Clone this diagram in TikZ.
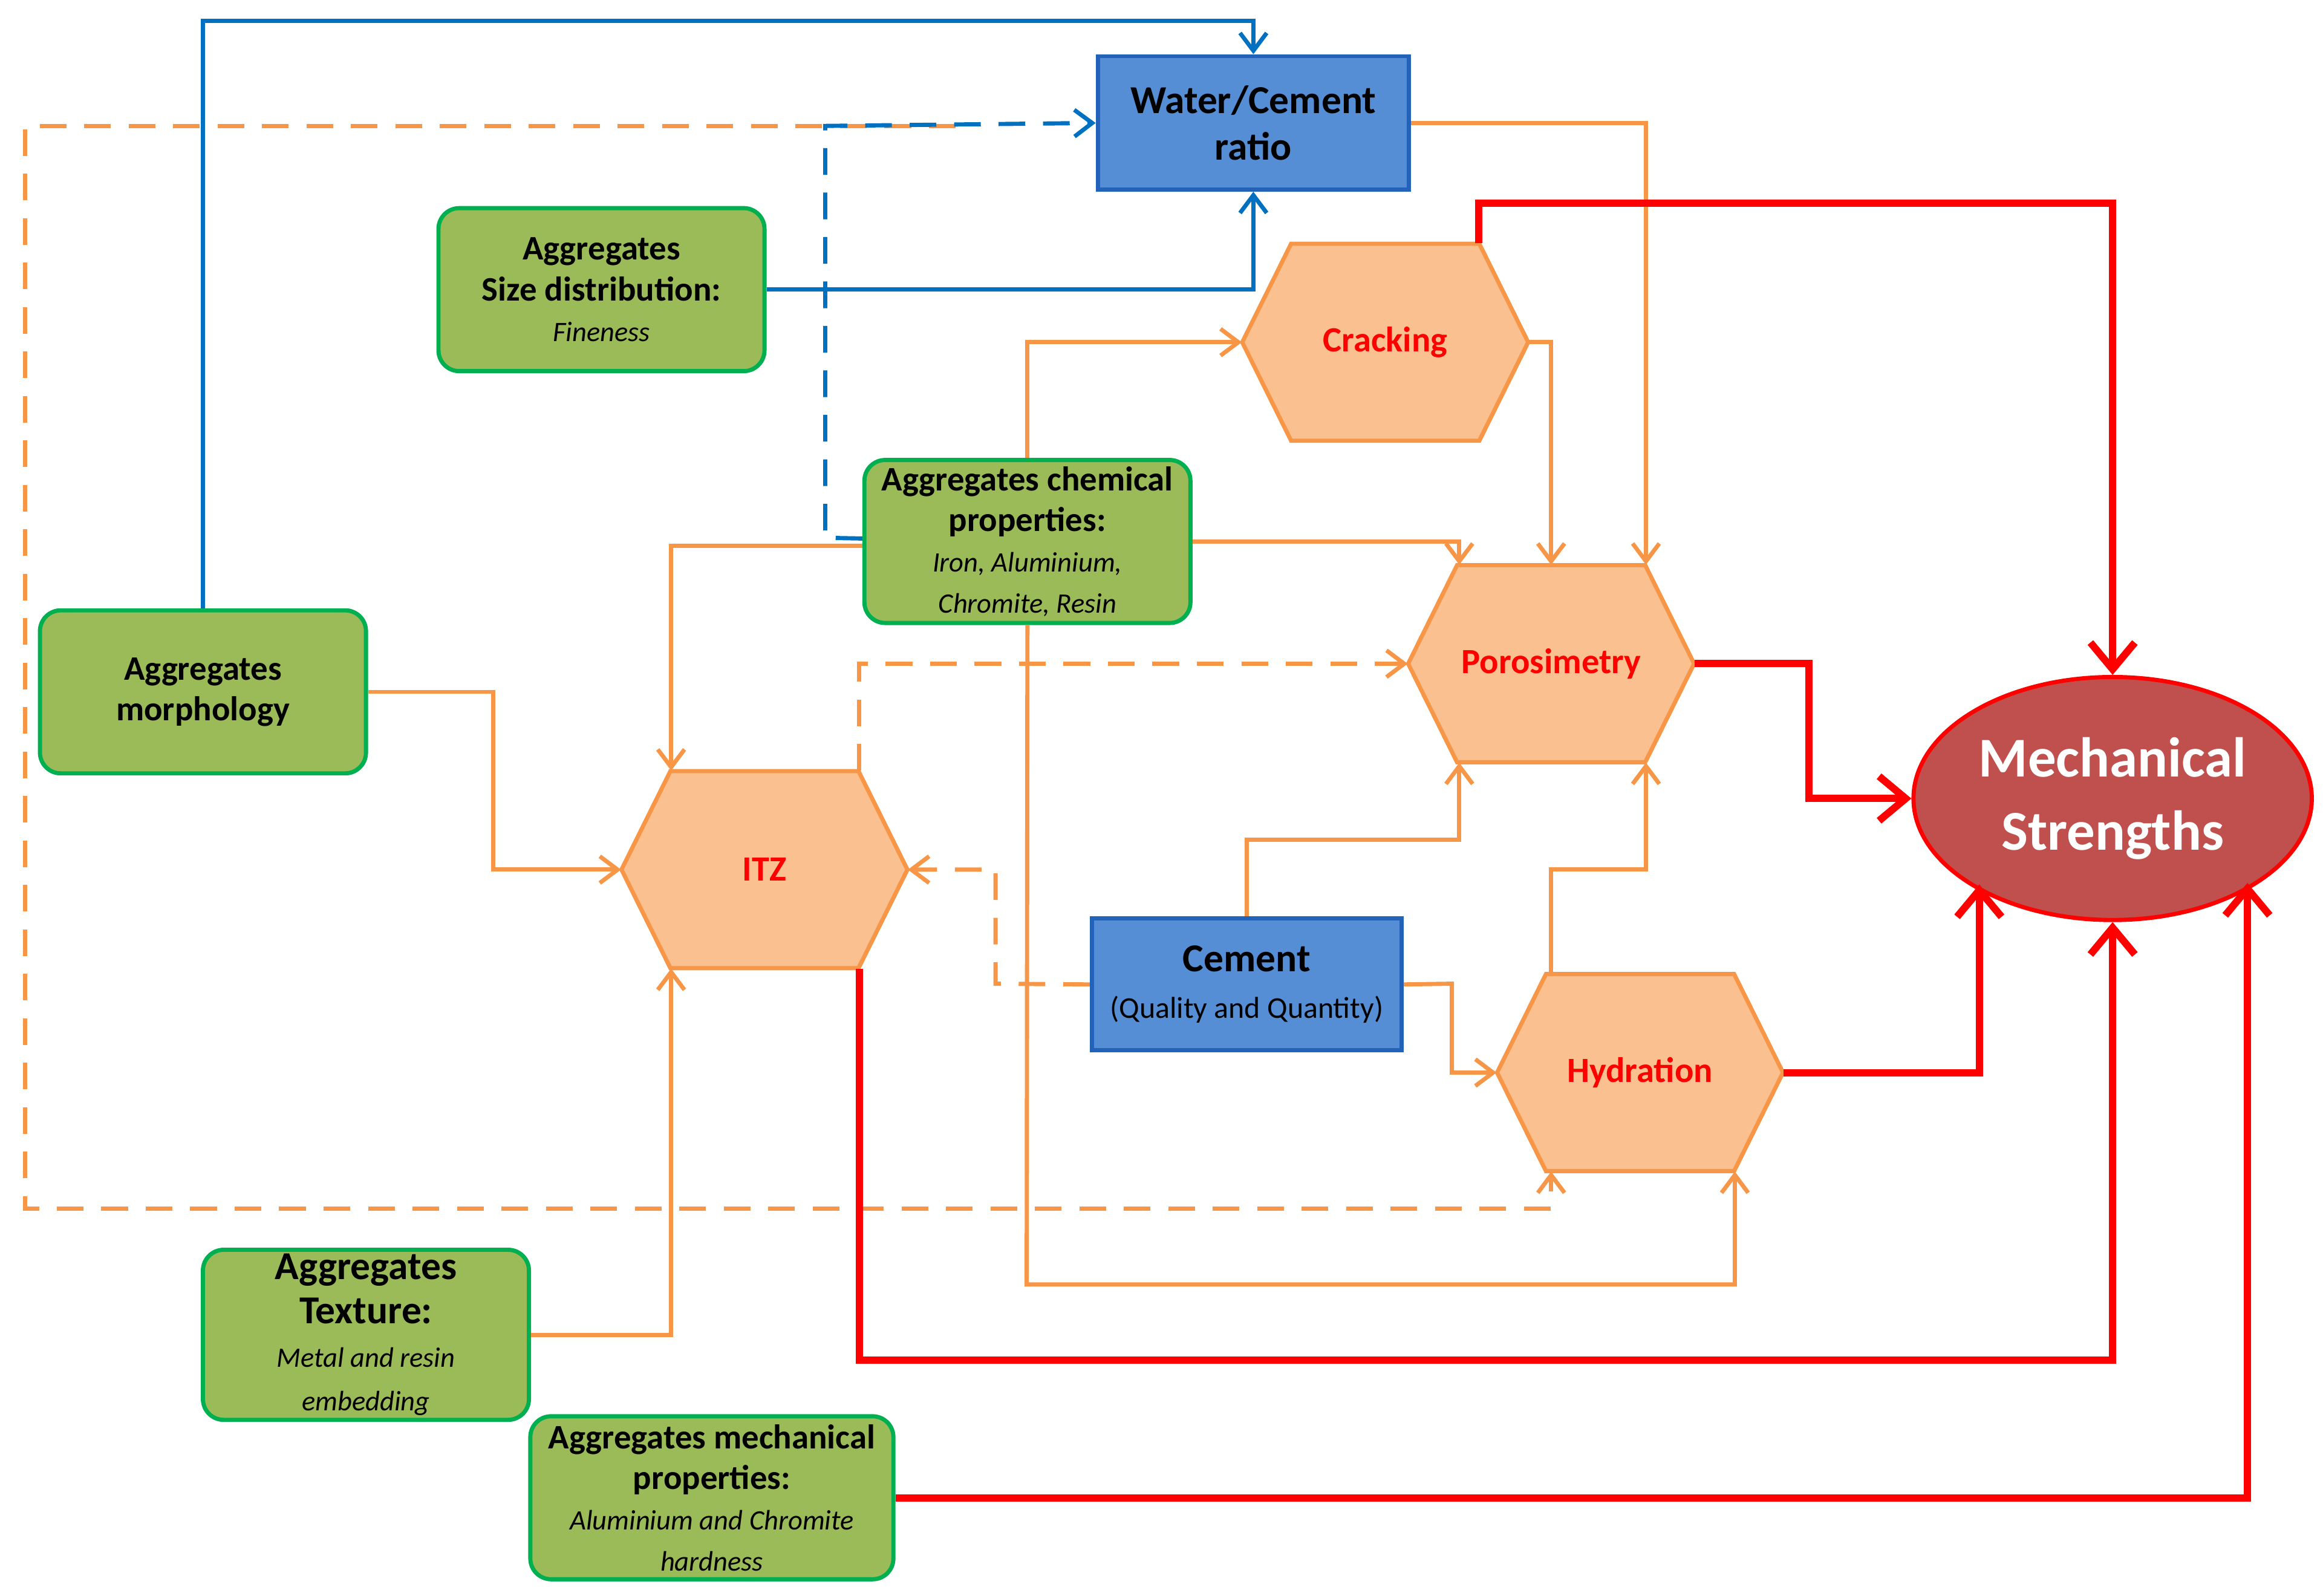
\documentclass[tikz,border=0pt]{standalone}
\usepackage{fontspec}
\setmainfont{Carlito}
\usetikzlibrary{arrows.meta,calc,shapes.geometric}
\definecolor{org}{HTML}{F79646}
\definecolor{hexf}{HTML}{FAC090}
\definecolor{blu}{HTML}{0070C0}
\definecolor{boxb}{HTML}{558ED5}
\definecolor{boxd}{HTML}{2262B8}
\definecolor{grf}{HTML}{9BBB59}
\definecolor{grd}{HTML}{00B050}
\definecolor{msf}{HTML}{C0504D}
\newcommand\myBt{\fontsize{16.5}{19}\selectfont\bfseries}
\newcommand\myBT{\fontsize{19}{22}\selectfont\bfseries}
\newcommand\myIt{\fontsize{13.5}{16}\selectfont\itshape}
\begin{document}
\begin{tikzpicture}[x=0.025cm,y=-0.025cm,
 gbox/.style={draw=grd,fill=grf,line width=2pt,rounded corners=0.35cm,minimum width=5.5cm,minimum height=2.75cm,align=center,inner sep=2pt,font=\fontsize{16.5}{19.5}\selectfont},
 bbox/.style={draw=boxd,fill=boxb,line width=2pt,minimum width=5.25cm,minimum height=2.25cm,align=center,font=\fontsize{19}{22.5}\selectfont},
 hexs/.style={draw=org,fill=hexf,line width=2pt},
 hexn/.style={minimum width=4.825cm,minimum height=3.325cm,inner sep=0,text=red,font=\fontsize{17}{20}\selectfont\bfseries},
 ol/.style={draw=org,line width=2pt,-{Straight Barb[length=0.3cm,width=0.45cm]}},
 bl/.style={draw=blu,line width=2pt,-{Straight Barb[length=0.3cm,width=0.45cm]}},
 rl/.style={draw=red,line width=3.5pt,-{Straight Barb[length=0.45cm,width=0.75cm]}},
 dsh/.style={dash pattern=on 0.45cm off 0.3cm}]
\useasboundingbox (0,0) rectangle (1568,1077);
\newcommand\hexa[4]{\coordinate (#1c) at (#2,#3);
 \draw[hexs] (#1c) ++(-96.5,0) -- ++(33,-66.5) -- ++(127,0) -- ++(33,66.5) -- ++(-33,66.5) -- ++(-127,0) -- cycle;
 \node[hexn] (#1) at (#1c) {#4};}
% nodes
\node[bbox] (wc) at (846,83) {\myBT Water/Cement\\\myBT ratio};
\node[gbox] (sd) at (406,195.5) {\myBt Aggregates\\\myBt Size distribution:\\\myIt Fineness};
\node[gbox] (ch) at (693.5,365.5) {\myBt Aggregates chemical\\\myBt properties:\\\myIt Iron, Aluminium,\\\myIt Chromite, Resin};
\node[gbox] (mo) at (137,467) {\myBt Aggregates\\\myBt morphology};
\node[bbox,minimum width=5.225cm,minimum height=2.225cm] (ce) at (841.5,664.5) {\myBT Cement\\\fontsize{14.5}{17}\selectfont (Quality and Quantity)};
\node[gbox,font=\fontsize{18}{21}\selectfont] (tx) at (247,901) {\myBT Aggregates\\\myBT Texture:\\\myIt Metal and resin\\\myIt embedding};
\node[gbox,minimum width=6.125cm] (mp) at (480.5,1011) {\myBt Aggregates mechanical\\\myBt properties:\\\myIt Aluminium and Chromite\\\myIt hardness};
\hexa{cr}{935}{231}{Cracking}
\hexa{po}{1047}{448}{Porosimetry}
\hexa{itz}{516}{587}{ITZ}
\hexa{hy}{1107}{724}{Hydration}
\node[ellipse,draw=red,fill=msf,line width=2pt,minimum width=6.35cm,minimum height=4.1cm,align=center,text=white,font=\fontsize{27}{35}\selectfont\bfseries] (ms) at (1426,539) {Mechanical\\Strengths};
% orange dashed big loop
\coordinate (od) at (645,85);
\draw[ol,dsh] (od) -- (17,85) -- (17,816) -| ($(hy.south)+(-60,0)$);
% blue
\draw[bl] (mo.north) -- (137,14) -| (wc.north);
\draw[bl] (sd.east) -| (wc.south);
\draw[bl,dsh] ($(ch.west)+(0,-2)$) -- (557,363) -- (557,85) -- (wc.west);
% orange solid
\draw[ol] (wc.east) -| ($(po.north)+(64,0)$);
\draw[ol] (cr.east) -| (po.north);
\draw[ol] (ch.north) |- (cr.west);
\draw[ol] (ch.east) -| ($(po.north)+(-62,0)$);
\draw[ol] ($(ch.west)+(0,3)$) -| ($(itz.north)+(-63,0)$);
\draw[ol] (ch.south) -- (693,867) -| ($(hy.south)+(64,0)$);
\draw[ol] (mo.east) -- (333,467) |- (itz.west);
\draw[ol] (tx.east) -| ($(itz.south)+(-63,0)$);
\draw[ol,dsh] ($(itz.north)+(64,0)$) |- (po.west);
\draw[ol,dsh] (ce.west) -- (672,664) |- (itz.east);
\draw[ol] (ce.north) |- (985,567) -- ($(po.south)+(-62,0)$);
\draw[ol] (ce.east) -- (980,664) |- (hy.west);
\draw[ol] ($(hy.north)+(-60,0)$) |- (1111,587) -- ($(po.south)+(64,0)$);
% red
\draw[rl] ($(cr.north)+(63,0)$) |- (1426,137) -- (ms.north);
\draw[rl] (po.east) -| (1221,539) -- (ms.west);
\draw[rl] (hy.east) -| ($(ms.center)+(-90,58)$);
\draw[rl] ($(itz.south)+(64,0)$) |- (1426,918) -- (ms.south);
\draw[rl] (mp.east) -| ($(ms.center)+(91,57)$);
\end{tikzpicture}
\end{document}
